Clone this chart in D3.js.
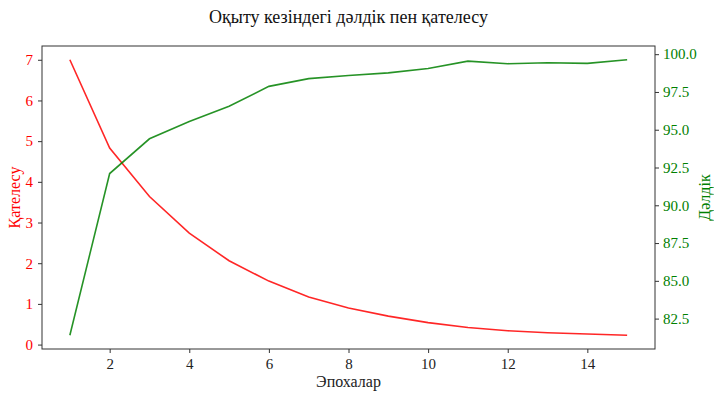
<!DOCTYPE html>
<html>
<head>
<meta charset="utf-8">
<script src="https://cdn.jsdelivr.net/npm/d3@7"></script>
<style>
  html, body { margin: 0; padding: 0; background: #fff; }
  svg text { font-family: "Liberation Serif", "DejaVu Serif", serif; }
</style>
</head>
<body>
<div id="chart"></div>
<script>
// данные
const epochs   = [1, 2, 3, 4, 5, 6, 7, 8, 9, 10, 11, 12, 13, 14, 15];
const loss     = [7.0, 4.83, 3.64, 2.74, 2.06, 1.56, 1.17, 0.90, 0.70, 0.54, 0.42, 0.34, 0.29, 0.26, 0.23];
const accuracy = [81.4, 92.1, 94.4, 95.55, 96.55, 97.87, 98.38, 98.59, 98.76, 99.05, 99.54, 99.37, 99.43, 99.39, 99.63];
const xTicks    = [2, 4, 6, 8, 10, 12, 14];
const lossTicks = [0, 1, 2, 3, 4, 5, 6, 7];
const accTicks  = [82.5, 85.0, 87.5, 90.0, 92.5, 95.0, 97.5, 100.0];

const W = 714, H = 393;
const m = { left: 42, right: 59, top: 46, bottom: 44 };
const RED = '#ff0000', GREEN = '#008000';

const svg = d3.select('#chart').append('svg')
  .attr('width', W).attr('height', H);

// matplotlib-style 5% margins
const pad = (lo, hi) => { const d = (hi - lo) * 0.05; return [lo - d, hi + d]; };

const x = d3.scaleLinear()
  .domain(pad(d3.min(epochs), d3.max(epochs)))
  .range([m.left, W - m.right]);
const yL = d3.scaleLinear()
  .domain(pad(d3.min(loss), d3.max(loss)))
  .range([H - m.bottom, m.top]);
const yR = d3.scaleLinear()
  .domain(pad(d3.min(accuracy), d3.max(accuracy)))
  .range([H - m.bottom, m.top]);

const styleAxis = (g, color) => {
  g.select('.domain').remove();
  g.selectAll('line').attr('stroke', '#333');
  g.selectAll('text')
    .attr('fill', color)
    .style('font-size', '15px');
};

svg.append('g')
  .attr('transform', `translate(0,${H - m.bottom})`)
  .call(d3.axisBottom(x).tickValues(xTicks).tickSize(4).tickPadding(5))
  .call(g => styleAxis(g, '#222'));

svg.append('g')
  .attr('transform', `translate(${m.left},0)`)
  .call(d3.axisLeft(yL).tickValues(lossTicks).tickSize(4).tickPadding(5))
  .call(g => styleAxis(g, RED));

svg.append('g')
  .attr('transform', `translate(${W - m.right},0)`)
  .call(d3.axisRight(yR).tickValues(accTicks).tickFormat(d3.format('.1f')).tickSize(4).tickPadding(4))
  .call(g => styleAxis(g, GREEN));

// линии
const lossLine = d3.line().x((d, i) => x(epochs[i])).y(d => yL(d));
const accLine  = d3.line().x((d, i) => x(epochs[i])).y(d => yR(d));

svg.append('path').datum(loss)
  .attr('d', lossLine)
  .attr('fill', 'none').attr('stroke', RED)
  .attr('stroke-opacity', 0.85).attr('stroke-width', 1.6);

svg.append('path').datum(accuracy)
  .attr('d', accLine)
  .attr('fill', 'none').attr('stroke', GREEN)
  .attr('stroke-opacity', 0.85).attr('stroke-width', 1.6);

// рамка
svg.append('rect')
  .attr('x', m.left).attr('y', m.top)
  .attr('width', W - m.left - m.right).attr('height', H - m.top - m.bottom)
  .attr('fill', 'none').attr('stroke', '#333').attr('stroke-width', 1);

// подписи
svg.append('text')
  .attr('x', (m.left + W - m.right) / 2).attr('y', 23)
  .attr('text-anchor', 'middle')
  .style('font-size', '18px').attr('fill', '#111')
  .text('Оқыту кезіндегі дәлдік пен қателесу');

svg.append('text')
  .attr('x', (m.left + W - m.right) / 2).attr('y', 387)
  .attr('text-anchor', 'middle')
  .style('font-size', '16px').attr('fill', '#222')
  .text('Эпохалар');

svg.append('text')
  .attr('transform', `translate(20,${(m.top + H - m.bottom) / 2}) rotate(-90)`)
  .attr('text-anchor', 'middle')
  .style('font-size', '16px').attr('fill', RED)
  .text('Қателесу');

svg.append('text')
  .attr('transform', `translate(710,${(m.top + H - m.bottom) / 2}) rotate(-90)`)
  .attr('text-anchor', 'middle')
  .style('font-size', '16px').attr('fill', GREEN)
  .text('Дәлдік');
</script>
</body>
</html>
